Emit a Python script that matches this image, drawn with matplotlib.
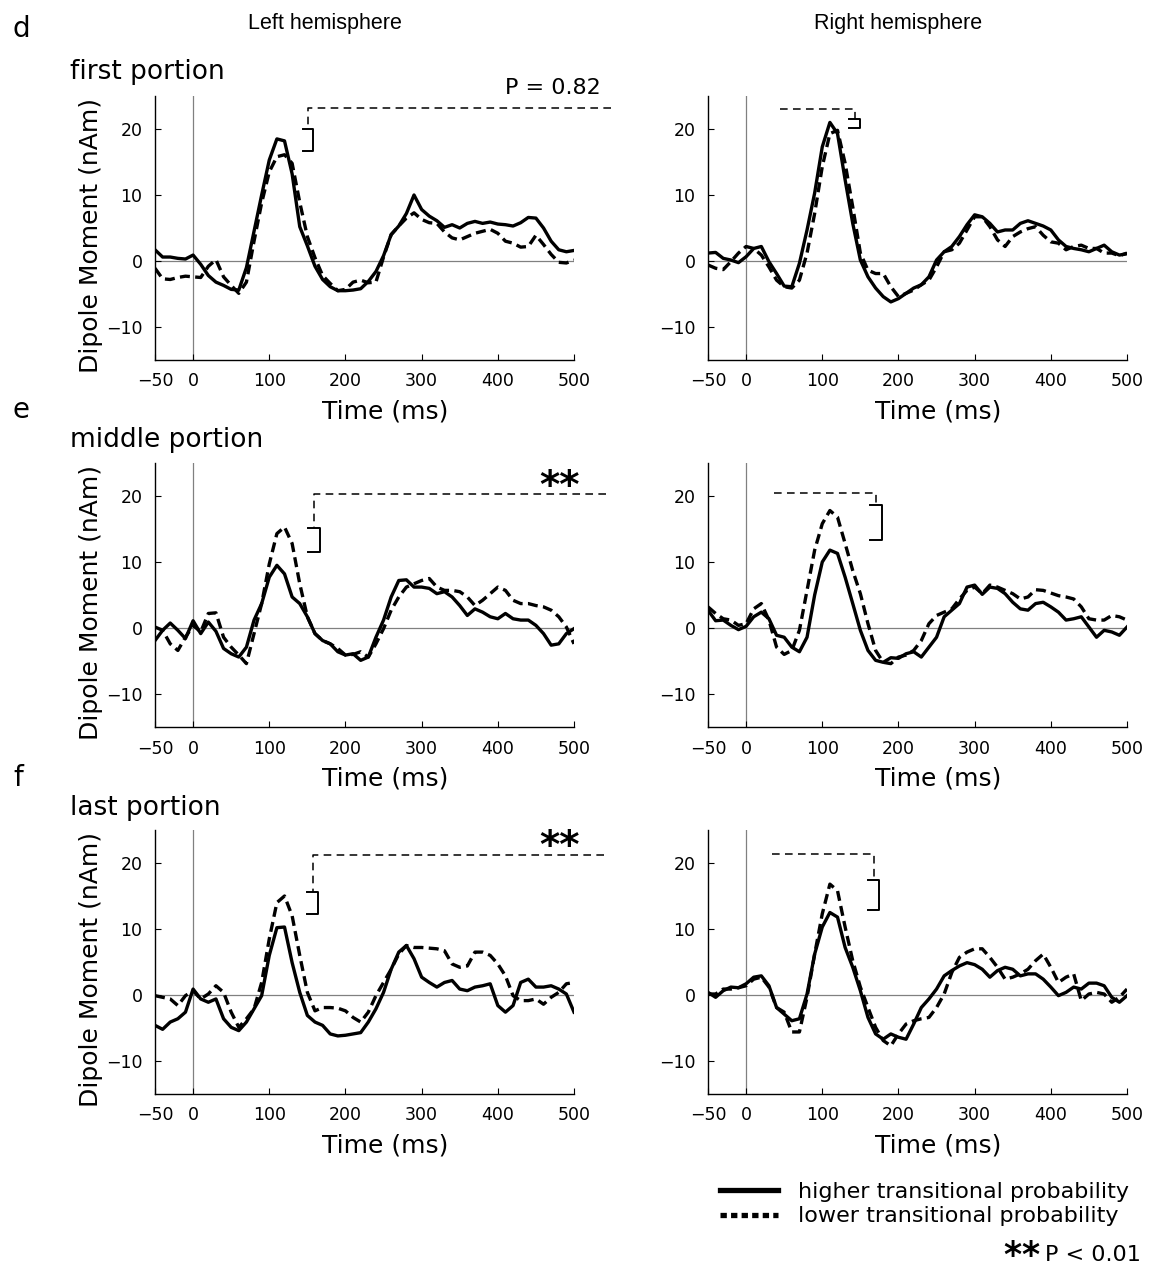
import numpy as np
import matplotlib.pyplot as plt
from matplotlib.lines import Line2D

plt.rcParams['font.family'] = ['DejaVu Sans']
plt.rcParams['axes.unicode_minus'] = True
plt.rcParams['mathtext.fontset'] = 'dejavusans'

# time axis of the averaged responses (ms)
time_ms = np.arange(-50, 501, 10)

# d: first portion
first_left_high = [1.7, 0.6, 0.6, 0.4, 0.3, 0.9, -0.5, -2.2, -3.2, -3.7, -4.3, -4.4, -1.0, 4.5, 10.0, 15.3,
                   18.5, 18.2, 13.2, 5.2, 2.3, -0.8, -2.8, -3.9, -4.5, -4.5, -4.4, -4.2, -3.1, -1.6, 0.8,
                   4.0, 5.3, 7.2, 10.0, 7.8, 6.8, 6.1, 5.1, 5.5, 5.0, 5.7, 6.0, 5.7, 5.9, 5.6, 5.5, 5.3,
                   5.8, 6.6, 6.5, 5.0, 3.0, 1.7, 1.4, 1.6]
first_left_low = [-1.1, -2.7, -2.8, -2.5, -2.3, -2.4, -2.5, -0.8, 0.2, -2.4, -3.7, -4.9, -3.2, 3.0, 8.8, 13.5,
                  15.8, 16.1, 14.8, 8.9, 3.7, 0.5, -2.2, -3.4, -4.5, -4.3, -3.2, -2.9, -3.3, -3.2, 0.6,
                  4.0, 5.3, 6.5, 7.3, 6.3, 5.8, 5.7, 4.4, 3.5, 3.2, 3.7, 4.2, 4.5, 4.8, 4.2, 3.0, 2.7,
                  2.1, 2.2, 3.9, 2.5, 1.0, -0.2, -0.3, 0.15]
first_right_high = [1.2, 1.3, 0.4, 0.15, -0.25, 0.65, 1.9, 2.2, -0.1, -1.9, -3.8, -3.9, -0.35, 4.7, 10.3, 17.3,
                    21.0, 19.3, 12.3, 5.7, 0.15, -2.4, -4.1, -5.4, -6.2, -5.7, -4.9, -4.1, -3.6, -2.4, 0.15,
                    1.4, 2.2, 3.7, 5.5, 7.0, 6.7, 5.7, 4.4, 4.7, 4.7, 5.7, 6.1, 5.7, 5.3, 4.7, 3.2, 2.2,
                    1.9, 1.7, 1.4, 1.9, 2.4, 1.4, 0.9, 1.1]
first_right_low = [-0.6, -1.1, -1.3, -0.1, 1.2, 2.2, 1.9, 0.9, -0.9, -2.9, -3.9, -4.1, -2.9, 1.2, 7.2, 14.3,
                   19.3, 19.8, 14.8, 8.2, 1.2, -1.4, -1.9, -1.9, -3.9, -5.4, -4.9, -4.4, -3.6, -2.9, -0.9,
                   1.4, 1.7, 2.7, 4.7, 6.7, 6.7, 5.2, 3.2, 2.2, 3.7, 4.4, 4.9, 5.2, 3.9, 2.9, 2.7, 1.7,
                   2.2, 2.4, 1.9, 1.9, 1.2, 1.2, 0.8, 1.2]

# e: middle portion
middle_left_high = [-1.9, -0.35, 0.75, -0.35, -1.6, 1.1, -0.85, 0.9, -0.5, -3.1, -3.9, -4.4, -2.9, 1.2, 3.7, 7.7,
                    9.5, 8.2, 4.7, 3.7, 1.7, -0.85, -1.9, -2.4, -3.6, -4.1, -3.9, -4.9, -4.4, -1.4, 1.2,
                    4.7, 7.2, 7.3, 6.2, 6.2, 6.0, 5.2, 5.5, 4.7, 3.4, 1.9, 2.9, 2.4, 1.7, 1.4, 2.2, 1.4,
                    1.2, 1.2, 0.4, -0.85, -2.6, -2.4, -0.85, -0.1]
middle_left_low = [0.15, -0.35, -2.4, -3.4, -1.4, 0.4, -0.6, 2.2, 2.3, -1.4, -2.9, -4.1, -5.4, -0.85, 3.7, 9.7,
                   14.3, 15.3, 12.8, 6.7, 1.7, -0.85, -1.9, -2.4, -3.1, -4.1, -4.0, -3.6, -4.4, -2.4, -0.1,
                   2.7, 4.7, 6.2, 6.7, 7.2, 7.5, 6.2, 5.7, 5.7, 5.5, 4.7, 3.4, 4.2, 5.2, 6.2, 5.7, 4.2,
                   3.7, 3.7, 3.4, 3.2, 2.7, 1.7, 0.15, -2.4]
middle_right_high = [2.7, 1.1, 1.2, 0.4, -0.25, 0.25, 1.7, 2.4, 1.4, -1.1, -1.4, -2.9, -3.6, -1.4, 5.0, 10.0,
                     11.8, 11.3, 7.7, 3.7, -0.35, -3.4, -4.9, -5.2, -4.5, -4.6, -3.9, -3.6, -4.4, -2.9, -1.4,
                     1.7, 2.7, 3.7, 6.2, 6.5, 5.1, 6.2, 6.0, 5.2, 3.9, 2.9, 2.7, 3.7, 3.9, 3.2, 2.4, 1.2,
                     1.4, 1.7, 0.15, -1.4, -0.35, -0.6, -1.1, 0.15]
middle_right_low = [3.2, 2.2, 1.4, 1.2, 0.4, 0.65, 2.9, 3.7, 1.2, -2.9, -4.0, -3.4, -0.35, 5.7, 11.8, 15.8,
                    17.8, 16.8, 12.8, 8.7, 5.2, 0.65, -3.4, -5.2, -5.4, -4.4, -4.1, -3.4, -1.9, 0.65, 1.9,
                    2.4, 2.9, 4.4, 5.7, 6.2, 5.2, 6.5, 6.2, 5.7, 5.2, 4.4, 4.7, 5.8, 5.7, 5.3, 4.9, 4.7,
                    4.4, 3.2, 1.4, 1.2, 1.2, 1.9, 1.7, 1.2]

# f: last portion
last_left_high = [-4.6, -5.2, -4.1, -3.6, -2.6, 0.9, -0.6, -1.1, -0.6, -3.6, -4.9, -5.4, -4.1, -2.1, -0.1, 6.0,
                  10.2, 10.3, 4.9, 0.4, -3.1, -4.1, -4.6, -5.9, -6.2, -6.1, -5.9, -5.7, -4.1, -2.1, 0.4,
                  3.9, 6.5, 7.5, 5.5, 2.7, 1.9, 1.2, 1.9, 2.2, 0.9, 0.65, 1.2, 1.4, 1.7, -1.6, -2.6, -1.6,
                  1.9, 2.4, 1.2, 1.2, 1.4, 0.9, 0.15, -2.6]
last_left_low = [-0.1, -0.35, -0.6, -1.6, -0.1, 0.65, -0.6, 0.15, 1.4, 0.4, -2.6, -4.9, -3.6, -2.1, 1.9, 8.5,
                 14.0, 15.0, 12.0, 6.0, 0.4, -2.4, -1.9, -1.9, -2.0, -2.4, -3.4, -4.1, -2.6, -0.1, 1.9,
                 3.9, 6.2, 7.5, 7.2, 7.2, 7.1, 7.0, 6.7, 4.7, 4.2, 4.4, 6.5, 6.5, 6.0, 4.7, 2.9, -0.1,
                 -0.85, -0.85, -0.6, -1.4, -0.35, 0.4, 1.7, 1.9]
last_right_high = [0.4, -0.35, 0.65, 1.2, 1.1, 1.7, 2.7, 2.9, 1.4, -1.9, -2.9, -3.9, -3.6, 0.15, 6.2, 10.3,
                   12.5, 11.8, 7.2, 4.2, 0.65, -3.4, -5.9, -6.7, -5.9, -6.4, -6.7, -4.4, -1.9, -0.6, 0.9,
                   2.9, 3.7, 4.4, 4.9, 4.6, 3.9, 2.7, 3.7, 4.2, 3.9, 2.9, 3.2, 3.2, 2.4, 1.2, -0.1, 0.4,
                   1.2, 0.9, 1.8, 1.8, 1.4, -0.35, -1.1, -0.1]
last_right_low = [0.15, 0.15, 0.9, 0.9, 1.1, 1.4, 2.4, 2.7, 1.2, -1.9, -2.6, -5.6, -5.6, -0.35, 6.2, 12.3,
                  16.8, 15.8, 10.3, 5.2, 1.2, -1.9, -4.9, -6.9, -7.7, -5.9, -4.4, -3.9, -3.6, -3.4, -1.9,
                  0.15, 3.4, 5.7, 6.5, 7.0, 7.0, 5.7, 4.2, 2.4, 2.7, 3.2, 3.9, 5.2, 6.2, 4.2, 1.9, 2.7,
                  3.2, -0.85, 0.15, 0.4, 0.15, -1.1, -0.35, 0.9]

high_curves = [[first_left_high, first_right_high],
               [middle_left_high, middle_right_high],
               [last_left_high, last_right_high]]
low_curves = [[first_left_low, first_right_low],
              [middle_left_low, middle_right_low],
              [last_left_low, last_right_low]]

portion_names = ["first portion", "middle portion", "last portion"]
panel_letters = ["d", "e", "f"]
hemispheres = ["Left hemisphere", "Right hemisphere"]

# peak comparison brackets: (peak high, peak low) range, bracket time span,
# dashed link (time start, time end, level) and the significance label
bracket_top = [[20.0, 21.5], [15.2, 18.7], [15.6, 17.5]]
bracket_bottom = [[16.6, 20.1], [11.5, 13.4], [12.3, 12.9]]
bracket_t0 = [[144, 135], [151, 163], [150, 160]]
bracket_t1 = [[158, 150], [166, 178], [164, 175]]
link_level = [[23.2, 23.1], [20.35, 20.45], [21.2, 21.3]]
link_far_end = [[549, 45], [542, 36], [540, 34]]
sig_labels = ["P = 0.82", "**", "**"]

W, H = 1152, 1271
fig = plt.figure(figsize=(W / 100, H / 100), dpi=100)


def px_box(x0, x1, y0, y1):
    return [x0 / W, 1 - y1 / H, (x1 - x0) / W, (y1 - y0) / H]


col_px = [(155, 574), (708, 1127)]
row_px = [(96, 360), (463, 727), (830, 1094)]

for r in range(3):
    for c in range(2):
        ax = fig.add_axes(px_box(col_px[c][0], col_px[c][1], row_px[r][0], row_px[r][1]))
        ax.set_xlim(-50, 500)
        ax.set_ylim(-15, 25)
        ax.axhline(0, color='#808080', lw=0.9, zorder=1)
        ax.axvline(0, color='#808080', lw=0.9, zorder=1)
        ax.plot(time_ms, high_curves[r][c], color='black', lw=2.4, solid_joinstyle='round', zorder=3)
        ax.plot(time_ms, low_curves[r][c], color='black', lw=2.4, ls=(0, (3.0, 1.6)), zorder=3)

        for s in ['top', 'right']:
            ax.spines[s].set_visible(False)
        ax.spines['left'].set_linewidth(1.0)
        ax.spines['bottom'].set_linewidth(1.0)
        ax.set_xticks([-50, 0, 100, 200, 300, 400, 500])
        ax.set_yticks([-10, 0, 10, 20])
        ax.tick_params(direction='in', length=4, width=0.8, labelsize=12.5, pad=9)
        ax.set_xlabel("Time (ms)", fontsize=18)
        ax.xaxis.set_label_coords(0.55, -0.15)
        if c == 0:
            ax.set_ylabel("Dipole Moment (nAm)", fontsize=18)
            ax.yaxis.set_label_coords(-0.125, 0.47)

        # bracket and dashed link
        t0, t1 = bracket_t0[r][c], bracket_t1[r][c]
        yt, yb = bracket_top[r][c], bracket_bottom[r][c]
        ax.plot([t0, t1, t1, t0], [yt, yt, yb, yb], color='black', lw=1.4, clip_on=False)
        tm = (t0 + t1) / 2
        ax.plot([link_far_end[r][c], tm, tm], [link_level[r][c], link_level[r][c], yt],
                color='black', lw=1.1, ls=(0, (5, 3.5)), clip_on=False)
        if c == 0:
            if r == 0:
                ax.text(535, 26.2, sig_labels[r], fontsize=16, ha='right', va='center', clip_on=False)
            else:
                ax.text(481, 25.3 if r == 2 else 24.3, sig_labels[r], fontsize=28, fontweight='bold',
                        ha='center', va='top', clip_on=False)

    fig.text(70 / W, 1 - (72 + 368 * r) / H, portion_names[r], fontsize=19, ha='left', va='center')
    fig.text(13 / W, 1 - [29, 410, 778][r] / H, panel_letters[r], fontsize=20, ha='left', va='center')

for c in range(2):
    fig.text([325, 898][c] / W, 1 - 24 / H, hemispheres[c], fontsize=15.5, ha='center', va='center',
             family=['Liberation Sans', 'DejaVu Sans'])

handles = [Line2D([], [], color='black', lw=3.8),
           Line2D([], [], color='black', lw=3.8, ls=(0, (1.2, 0.8)))]
fig.legend(handles, ["higher transitional probability", "lower transitional probability"],
           loc='upper left', bbox_to_anchor=(720 / W, 1 - 1182 / H), frameon=False, fontsize=16,
           handlelength=2.6, handletextpad=0.9, labelspacing=0.2, borderpad=0, borderaxespad=0)

# significance key (mathtext gives a box that hugs the asterisks)
fig.text(1041 / W, 1 - 1254 / H, r"$\mathbf{{*}{*}}$", fontsize=25, ha='right', va='center')
fig.text(1045 / W, 1 - 1255 / H, "P < 0.01", fontsize=16, ha='left', va='center')

fig.savefig("out.png", dpi=100)
